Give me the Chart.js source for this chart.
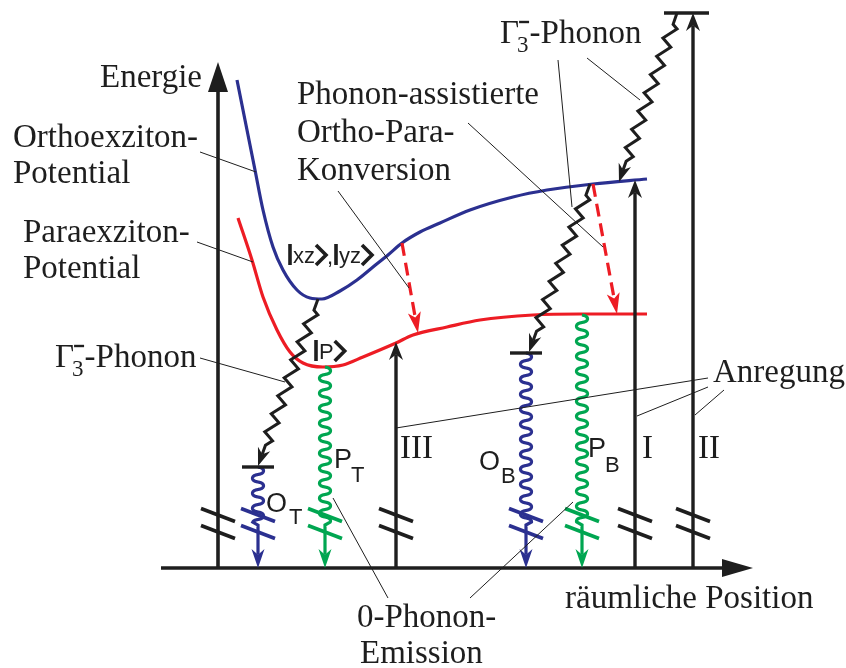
<!DOCTYPE html>
<html>
<head>
<meta charset="utf-8">
<script src="https://cdn.jsdelivr.net/npm/chart.js@4.4.1/dist/chart.umd.min.js"></script>
<style>
  html, body { margin: 0; padding: 0; background: #fff; }
  canvas { display: block; }
</style>
</head>
<body>
<canvas id="chart" width="846" height="668"></canvas>
<script>
// exciton potentials (position -> energy, energy axis points down on the canvas)
const orthoPos = [237, 246, 255, 263, 273, 283, 297, 310, 322, 340, 357, 373, 388, 402, 420, 440, 470, 513, 547, 593, 647];
const orthoLevel = [80, 125, 170, 210, 247, 270, 290, 298, 299, 291, 280, 267, 255, 243, 232, 223, 210, 197, 190, 184, 179];
const paraPos = [238, 252, 263, 277, 290, 303, 323, 343, 363, 396, 413, 447, 480, 533, 580, 647];
const paraLevel = [218, 260, 297, 330, 352, 363, 367, 365, 357, 343, 335, 327, 320, 315, 314, 314];

// excitation arrows
const pumpNames = ["III", "I", "II"];
const pumpPos = [396, 635, 693];
const pumpTop = [342, 180, 13];

// luminescence lines
const emitNames = ["O", "P", "O", "P"];
const emitSubs = ["T", "T", "B", "B"];
const emitPos = [258, 325, 526, 582];
const emitTop = [467, 367, 353, 315];

// phonon relaxation and ortho-para conversion
const phononStart = [[677, 13], [590, 184], [318, 299]];
const phononEnd = [[619, 182], [529, 352], [258, 466]];
const convStart = [[402, 243], [593, 184]];
const convEnd = [[418, 333], [617, 314]];

const groundLevel = 568;

const BLUE = "#2b3090";
const RED = "#ed1c24";
const GREEN = "#00a651";
const INK = "#1e1e1e";
const SERIF = '"Liberation Serif", "Times New Roman", serif';
const SANS = '"Liberation Sans", Arial, sans-serif';

const diagram = {
  id: "diagram",
  afterDatasetsDraw(chart) {
    const ctx = chart.ctx;
    const sx = (v) => chart.scales.x.getPixelForValue(v);
    const sy = (v) => chart.scales.y.getPixelForValue(v);

    function path(pts, color, w, dash) {
      ctx.save();
      ctx.strokeStyle = color;
      ctx.lineWidth = w;
      ctx.lineJoin = "miter";
      ctx.setLineDash(dash || []);
      ctx.beginPath();
      pts.forEach(([x, y], i) => (i ? ctx.lineTo(x, y) : ctx.moveTo(x, y)));
      ctx.stroke();
      ctx.restore();
    }

    // filled arrow head, returns the point where the shaft should stop
    function head(tx, ty, fx, fy, len, half, color, notch = 0.3) {
      const d = Math.hypot(fx - tx, fy - ty);
      const ux = (fx - tx) / d, uy = (fy - ty) / d;
      ctx.save();
      ctx.fillStyle = color;
      ctx.beginPath();
      ctx.moveTo(tx, ty);
      ctx.lineTo(tx + ux * len - uy * half, ty + uy * len + ux * half);
      ctx.lineTo(tx + ux * len * (1 - notch), ty + uy * len * (1 - notch));
      ctx.lineTo(tx + ux * len + uy * half, ty + uy * len - ux * half);
      ctx.closePath();
      ctx.fill();
      ctx.restore();
      return [tx + ux * len * (1 - notch), ty + uy * len * (1 - notch)];
    }

    // phonon line: teeth are offset sideways (horizontally) along a slanted run
    function zigzag(a, b, color) {
      const [x0, y0] = [sx(a[0]), sy(a[1])];
      const [x1, y1] = [sx(b[0]), sy(b[1])];
      const L = Math.hypot(x1 - x0, y1 - y0);
      const ux = (x1 - x0) / L, uy = (y1 - y0) / L;
      const lead = 12, tail = 22, amp = 5.5;
      const n = Math.round((L - lead - tail) / 9.5);
      const h = (L - lead - tail) / n;
      const pts = [[x0, y0], [x0 + ux * lead, y0 + uy * lead]];
      for (let k = 0; k < n; k++) {
        const s = lead + (k + 0.5) * h;
        const off = k % 2 ? -amp : amp;
        pts.push([x0 + ux * s + off, y0 + uy * s]);
      }
      pts.push([x0 + ux * (L - tail), y0 + uy * (L - tail)]);
      const stop = head(x1, y1, x0, y0, 18, 6.5, color);
      pts.push(stop);
      path(pts, color, 3);
    }

    // photon line: coiled wave down to the ground level
    function wave(x, top, color) {
      const X = sx(x), yTop = sy(top), yTip = sy(groundLevel);
      const k = 15 / (2 * Math.PI);
      const pts = [];
      let y = yTop;
      for (let t = 0; y < sy(522); t += 0.04) {
        y = yTop + k * t - 0.65 * Math.sin(2 * t);
        pts.push([X + 5.5 * Math.sin(t), y]);
      }
      const stop = head(X, yTip, X, yTop, 19, 6.5, color);
      pts.push([X, y + 3], stop);
      ctx.save();
      ctx.lineJoin = "round";
      path(pts, color, 3.2);
      ctx.restore();
    }

    function breakMarks(x, color) {
      const X = sx(x);
      [515, 532].forEach((c) => {
        const Y = sy(c);
        path([[X - 17, Y - 6.5], [X + 17, Y + 6.5]], color, 3.6);
      });
    }

    function text(str, x, y, font, color = INK) {
      ctx.save();
      ctx.font = font;
      ctx.fillStyle = color;
      ctx.textBaseline = "alphabetic";
      ctx.fillText(str, sx(x), sy(y));
      const w = ctx.measureText(str).width;
      ctx.restore();
      return w;
    }

    function leader(a, b) {
      path([[sx(a[0]), sy(a[1])], [sx(b[0]), sy(b[1])]], INK, 1);
    }

    function ket(x, base, inner) {
      const X = sx(x), B = sy(base);
      ctx.save();
      ctx.strokeStyle = INK;
      ctx.lineWidth = 3.6;
      ctx.beginPath();
      ctx.moveTo(X, B - 19);
      ctx.lineTo(X, B + 2);
      ctx.stroke();
      ctx.font = "22px " + SANS;
      ctx.fillStyle = INK;
      ctx.fillText(inner, X + 3, B);
      const cx = X + 3 + ctx.measureText(inner).width + 1;
      ctx.lineWidth = 3.6;
      ctx.lineJoin = "miter";
      ctx.beginPath();
      ctx.moveTo(cx, B - 18);
      ctx.lineTo(cx + 10, B - 8);
      ctx.lineTo(cx, B + 2);
      ctx.stroke();
      ctx.restore();
      return x + (cx + 11 - X);
    }

    function gammaPhonon(x, base) {
      const wG = text("\u0393", x, base, "33px " + SERIF);
      const xs = x + wG - 2;
      const w3 = text("3", xs, base + 9, "23px " + SERIF);
      path([[sx(xs + 2), sy(base - 21)], [sx(xs + 12), sy(base - 21)]], INK, 2.4);
      text("-Phonon", xs + w3 + 1, base, "33px " + SERIF);
    }

    // axes
    const axisX = 218;
    const axisTip = head(sx(axisX), sy(62), sx(axisX), sy(groundLevel), 30, 10, INK, 0);
    path([[sx(axisX), sy(groundLevel)], axisTip], INK, 3.6);
    const xTip = head(sx(753), sy(groundLevel), sx(161), sy(groundLevel), 31, 9, INK, 0);
    path([[sx(161), sy(groundLevel)], xTip], INK, 3.6);

    // excitation arrows
    pumpPos.forEach((x, i) => {
      const stop = head(sx(x), sy(pumpTop[i]), sx(x), sy(groundLevel), 18, 7, INK);
      path([[sx(x), sy(groundLevel)], stop], INK, 3.4);
      text(pumpNames[i], [400, 642, 698][i], 458, "33px " + SERIF);
    });
    path([[sx(664), sy(13)], [sx(709), sy(13)]], INK, 3.6);

    // luminescence lines
    emitPos.forEach((x, i) => {
      const color = emitNames[i] === "O" ? BLUE : GREEN;
      wave(x, emitTop[i], color);
      if (emitNames[i] === "O") path([[sx(x - 16), sy(emitTop[i])], [sx(x + 16), sy(emitTop[i])]], INK, 3.4);
    });

    // phonon cascades and conversion
    phononStart.forEach((a, i) => zigzag(a, phononEnd[i], INK));
    convStart.forEach((a, i) => {
      const b = convEnd[i];
      const stop = head(sx(b[0]), sy(b[1]), sx(a[0]), sy(a[1]), 21, 6.5, RED, 0.25);
      path([[sx(a[0]), sy(a[1])], stop], RED, 3.2, [13, 7]);
    });

    // axis breaks
    [axisX, 396, 635, 693].forEach((x) => breakMarks(x, INK));
    emitPos.forEach((x, i) => breakMarks(x, emitNames[i] === "O" ? BLUE : GREEN));

    // line labels
    const subPlace = [[266, 512, 289, 524], [334, 468, 351, 482], [479, 470, 501, 483], [588, 457, 605, 472]];
    emitNames.forEach((nm, i) => {
      const [a, b, c, d] = subPlace[i];
      text(nm, a, b, "27px " + SANS);
      text(emitSubs[i], c, d, "22px " + SANS);
    });

    // states
    const next = ket(290, 263, "xz");
    text(",", next, 264, "22px " + SANS);
    ket(next + 9, 263, "yz");
    ket(316, 359, "P");

    // annotations
    const big = "33px " + SERIF;
    text("Energie", 100, 87, big);
    text("Orthoexziton-", 13, 147, big);
    text("Potential", 13, 183, big);
    text("Paraexziton-", 23, 242, big);
    text("Potential", 23, 278, big);
    text("Phonon-assistierte", 297, 104, big);
    text("Ortho-Para-", 297, 142, big);
    text("Konversion", 297, 180, big);
    text("Anregung", 713, 382, big);
    text("0-Phonon-", 357, 627, big);
    text("Emission", 360, 663, big);
    text("r\u00e4umliche Position", 565, 608, big);
    gammaPhonon(500, 43);
    gammaPhonon(55, 367);

    leader([200, 152], [256, 172]);
    leader([197, 242], [253, 262]);
    leader([338, 191], [409, 288]);
    leader([468, 123], [603, 247]);
    leader([558, 60], [572, 207]);
    leader([587, 58], [640, 100]);
    leader([200, 358], [285, 382]);
    leader([708, 378], [396, 428]);
    leader([708, 387], [637, 416]);
    leader([724, 390], [695, 415]);
    leader([388, 598], [333, 498]);
    leader([470, 598], [573, 502]);
  },
};

new Chart(document.getElementById("chart").getContext("2d"), {
  type: "scatter",
  data: {
    datasets: [
      {
        label: "Orthoexziton-Potential",
        data: orthoPos.map((x, i) => ({ x, y: orthoLevel[i] })),
        borderColor: BLUE,
        borderWidth: 3.2,
      },
      {
        label: "Paraexziton-Potential",
        data: paraPos.map((x, i) => ({ x, y: paraLevel[i] })),
        borderColor: RED,
        borderWidth: 3.2,
      },
    ].map((d) => ({ ...d, showLine: true, pointRadius: 0, cubicInterpolationMode: "monotone", clip: false })),
  },
  options: {
    responsive: false,
    animation: false,
    layout: { padding: 0 },
    plugins: { legend: { display: false }, tooltip: { enabled: false } },
    scales: {
      x: { type: "linear", min: 0, max: 846, display: false },
      y: { type: "linear", min: 0, max: 668, reverse: true, display: false },
    },
  },
  plugins: [diagram],
});
</script>
</body>
</html>
